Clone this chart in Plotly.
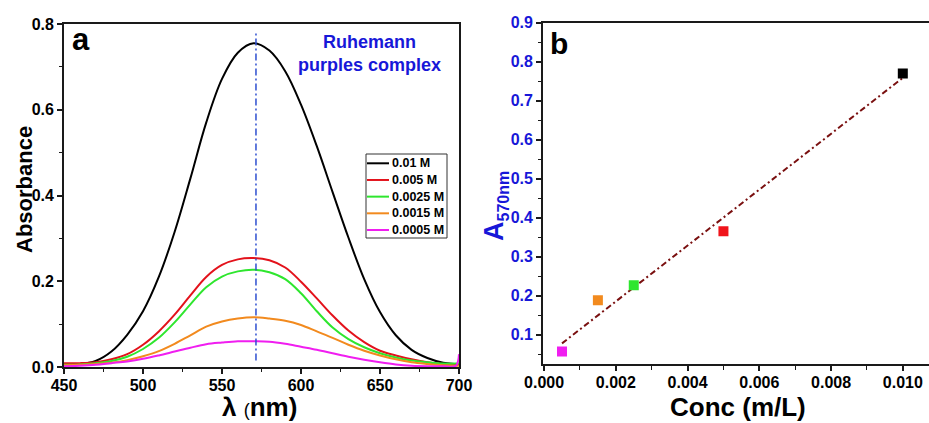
import numpy as np
import plotly.graph_objects as go

W, H = 929, 423

# ---- Panel (a): absorption spectra of the Ruhemann purple complex ----
wavelength = [450, 460, 470, 480, 490, 500, 510, 520, 530, 540, 550, 560, 570,
              580, 590, 600, 610, 620, 630, 640, 650, 660, 670, 680, 690, 698, 700]

abs_0010 = [0.007, 0.007, 0.014, 0.036, 0.075, 0.130, 0.210, 0.315, 0.440, 0.570, 0.672, 0.733, 0.755,
            0.738, 0.690, 0.612, 0.515, 0.408, 0.302, 0.205, 0.128, 0.074, 0.040, 0.021, 0.010, 0.007, 0.006]
abs_0005 = [0.009, 0.009, 0.011, 0.018, 0.030, 0.052, 0.083, 0.122, 0.167, 0.210, 0.238, 0.251, 0.254,
            0.249, 0.232, 0.199, 0.160, 0.120, 0.085, 0.058, 0.038, 0.027, 0.018, 0.011, 0.007, 0.006, 0.006]
abs_00025 = [0.005, 0.006, 0.009, 0.014, 0.024, 0.042, 0.068, 0.104, 0.146, 0.186, 0.211, 0.223, 0.227,
             0.221, 0.205, 0.172, 0.130, 0.092, 0.065, 0.046, 0.032, 0.022, 0.015, 0.011, 0.008, 0.008, 0.009]
abs_00015 = [0.004, 0.005, 0.007, 0.010, 0.016, 0.025, 0.037, 0.054, 0.074, 0.094, 0.106, 0.113, 0.116,
             0.113, 0.108, 0.098, 0.083, 0.068, 0.052, 0.038, 0.027, 0.018, 0.011, 0.007, 0.004, 0.003, 0.003]
abs_00005 = [0.002, 0.003, 0.005, 0.009, 0.013, 0.019, 0.027, 0.036, 0.045, 0.053, 0.057, 0.060, 0.060,
             0.059, 0.054, 0.047, 0.040, 0.032, 0.024, 0.017, 0.011, 0.006, 0.003, 0.002, 0.002, 0.003, 0.030]

series_labels = ["0.01 M", "0.005 M", "0.0025 M", "0.0015 M", "0.0005 M"]
series_values = [abs_0010, abs_0005, abs_00025, abs_00015, abs_00005]
series_colors = ["#000000", "#e3121b", "#2ee62e", "#f28a1e", "#f01ef0"]

peak_wavelength = 571.5
peak_line_span = [0.015, 0.785]

# ---- Panel (b): calibration at 570 nm ----
conc = [0.0005, 0.0015, 0.0025, 0.005, 0.010]
a570 = [0.057, 0.188, 0.227, 0.365, 0.770]
point_colors = ["#f01ef0", "#f28a1e", "#2ee62e", "#f0141b", "#000000"]

x_ticks_a = [450, 500, 550, 600, 650, 700]
y_ticks_a = [0.0, 0.2, 0.4, 0.6, 0.8]
x_ticks_b = [0.000, 0.002, 0.004, 0.006, 0.008, 0.010]
y_ticks_b = [0.1, 0.2, 0.3, 0.4, 0.5, 0.6, 0.7, 0.8, 0.9]

BLUE = "#1717d8"
FONT = "Liberation Sans"


def px(x):
    return x / W


def py(y):
    return 1 - y / H


fig = go.Figure()

for lab, vals, col in zip(series_labels, series_values, series_colors):
    fig.add_trace(go.Scatter(x=wavelength, y=vals, mode="lines", name=lab,
                             line=dict(color=col, width=2, shape="spline", smoothing=1.0),
                             xaxis="x", yaxis="y", showlegend=False))

fig.add_trace(go.Scatter(x=[peak_wavelength, peak_wavelength], y=peak_line_span, mode="lines",
                         line=dict(color="#2f4fd0", width=1.5, dash="7px,3px,2px,3px"),
                         xaxis="x", yaxis="y", showlegend=False))

# least-squares calibration line
slope, intercept = np.polyfit(conc, a570, 1)
fit_x = [min(conc), max(conc)]
fit_y = [slope * v + intercept for v in fit_x]
fig.add_trace(go.Scatter(x=fit_x, y=fit_y, mode="lines",
                         line=dict(color="#7a1010", width=2, dash="6px,3px,2px,3px"),
                         xaxis="x2", yaxis="y2", showlegend=False))
fig.add_trace(go.Scatter(x=conc, y=a570, mode="markers",
                         marker=dict(symbol="square", size=10, color=point_colors),
                         xaxis="x2", yaxis="y2", showlegend=False))

axis_common = dict(showgrid=False, zeroline=False, showline=True, linecolor="#1a1a1a",
                   linewidth=1.8, ticks="outside", ticklen=5, tickwidth=1.5,
                   tickcolor="#1a1a1a", automargin=False)

fig.update_layout(
    width=W, height=H,
    margin=dict(l=0, r=0, t=0, b=0),
    paper_bgcolor="white", plot_bgcolor="white",
    xaxis=dict(domain=[px(64), px(459)], range=[450, 700], tickvals=x_ticks_a,
               ticktext=[str(v) for v in x_ticks_a], mirror=True, ticklabelstandoff=-2,
               tickfont=dict(family=FONT, size=16, color="black", weight="bold"),
               minor=dict(dtick=25, ticks="outside", ticklen=3, tickwidth=1.2, tickcolor="#1a1a1a"),
               anchor="y", **axis_common),
    yaxis=dict(domain=[py(367), py(24)], range=[0, 0.8], tickvals=y_ticks_a,
               ticktext=[f"{v:.1f}" for v in y_ticks_a], mirror=True,
               tickfont=dict(family=FONT, size=16, color="black", weight="bold"),
               minor=dict(dtick=0.1, ticks="outside", ticklen=3, tickwidth=1.2, tickcolor="#1a1a1a"),
               anchor="x", **axis_common),
    xaxis2=dict(domain=[px(543), 1.0], range=[-0.00003, 0.01073], tickvals=x_ticks_b,
                ticktext=[f"{v:.3f}" for v in x_ticks_b], mirror=True, ticklabelstandoff=-2,
                tickfont=dict(family=FONT, size=16, color="black", weight="bold"),
                minor=dict(tick0=0.001, dtick=0.002, ticks="outside", ticklen=4, tickwidth=1.2,
                           tickcolor="#1a1a1a"),
                anchor="y2", **axis_common),
    yaxis2=dict(domain=[py(364.3), py(22.7)], range=[0.024, 0.9], tickvals=y_ticks_b,
                ticktext=[f"{v:.1f}" for v in y_ticks_b], mirror=False,
                tickfont=dict(family=FONT, size=16, color=BLUE, weight="bold"),
                minor=dict(tick0=0.05, dtick=0.1, ticks="outside", ticklen=3, tickwidth=1.2,
                           tickcolor="#1a1a1a"),
                anchor="x2", **axis_common),
)

annotations = [
    # panel letters
    dict(text="a", x=px(70), y=py(39), xanchor="left", yanchor="middle",
         font=dict(family=FONT, size=31, color="black", weight="bold")),
    dict(text="b", x=px(548), y=py(43), xanchor="left", yanchor="middle",
         font=dict(family=FONT, size=30, color="black", weight="bold")),
    # panel (a) note
    dict(text="Ruhemann<br>purples complex", x=px(369), y=py(54), xanchor="center",
         yanchor="middle", align="center",
         font=dict(family=FONT, size=18, color=BLUE, weight="bold")),
    # axis titles
    dict(text="λ <span style='font-size:18px;font-weight:normal'>(</span>nm)",
         x=px(259), y=py(407), xanchor="center", yanchor="middle",
         font=dict(family=FONT, size=26, color="black", weight="bold")),
    dict(text="Absorbance", x=px(24), y=py(190), xanchor="center", yanchor="middle",
         textangle=-90, font=dict(family=FONT, size=22, color="black", weight="bold")),
    dict(text="Conc (m/L)", x=px(738), y=py(407), xanchor="center", yanchor="middle",
         font=dict(family=FONT, size=26, color="black", weight="bold")),
    dict(text="A<sub><span style='font-size:16px'>570nm</span></sub>", x=px(495), y=py(206),
         xanchor="center", yanchor="middle", textangle=-90,
         font=dict(family=FONT, size=27, color=BLUE, weight="bold")),
]

shapes = [
    dict(type="rect", xref="paper", yref="paper", x0=px(366), x1=px(447), y0=py(238), y1=py(154),
         line=dict(color="#333333", width=1), fillcolor="white", layer="above"),
]

# legend rows
row0, row_step = 163.3, 16.67
for i, (lab, col) in enumerate(zip(series_labels, series_colors)):
    yy = row0 + i * row_step
    shapes.append(dict(type="line", xref="paper", yref="paper", x0=px(367), x1=px(389),
                       y0=py(yy), y1=py(yy), line=dict(color=col, width=2), layer="above"))
    annotations.append(dict(text=lab, x=px(390), y=py(yy), xanchor="left", yanchor="middle",
                            showarrow=False,
                            font=dict(family=FONT, size=12.5, color="black", weight="bold")))

for a in annotations:
    a.setdefault("showarrow", False)
    a["xref"] = "paper"
    a["yref"] = "paper"

fig.update_layout(annotations=annotations, shapes=shapes)

fig.write_html("out.html")
